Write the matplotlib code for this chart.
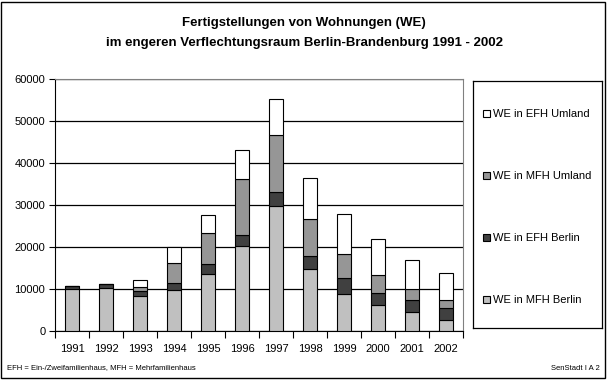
import matplotlib

matplotlib.use("Agg")

import matplotlib.pyplot as plt
import numpy as np
from matplotlib.patches import Patch, Rectangle

plt.rcParams["font.family"] = ["Liberation Sans", "DejaVu Sans"]

years = ["1991", "1992", "1993", "1994", "1995", "1996",
         "1997", "1998", "1999", "2000", "2001", "2002"]
mfh_berlin = [10000, 10300, 8400, 9800, 13600, 20200,
              29800, 14800, 8900, 6250, 4600, 2700]
efh_berlin = [700, 900, 1200, 1700, 2400, 2700,
              3300, 3100, 3800, 2850, 2700, 2700]
mfh_umland = [0, 0, 850, 4700, 7400, 13300,
              13500, 8800, 5700, 4300, 2600, 1900]
efh_umland = [0, 0, 1750, 3700, 4300, 6900,
              8600, 9700, 9500, 8500, 7000, 6600]

series = [
    ("WE in MFH Berlin", mfh_berlin, "#c0c0c0"),
    ("WE in EFH Berlin", efh_berlin, "#404040"),
    ("WE in MFH Umland", mfh_umland, "#969696"),
    ("WE in EFH Umland", efh_umland, "#ffffff"),
]

W, H = 608, 381
fig = plt.figure(figsize=(W / 100, H / 100), dpi=100)


def fx(px):
    return px / W


def fy(py):
    return 1 - py / H


# outer frame
fig.patches.append(Rectangle((fx(1), fy(378)), fx(604), 376 / H, transform=fig.transFigure,
                             fill=False, edgecolor="black", linewidth=1))

fig.text(0.5, fy(23), "Fertigstellungen von Wohnungen (WE)", ha="center", va="center",
         fontsize=9.5, fontweight="bold")
fig.text(0.5, fy(43), "im engeren Verflechtungsraum Berlin-Brandenburg 1991 - 2002",
         ha="center", va="center", fontsize=9.5, fontweight="bold")

ax = fig.add_axes([fx(55), fy(331), fx(408), 252 / H])
x = np.arange(len(years))
bottom = np.zeros(len(years))
handles = []
for label, values, color in series:
    vals = np.array(values, dtype=float)
    ax.bar(x, vals, width=0.42, bottom=bottom, color=color, edgecolor="black",
           linewidth=0.8, zorder=3)
    bottom += vals
    handles.append(Patch(facecolor=color, edgecolor="black", linewidth=0.8, label=label))

ax.set_xlim(-0.5, len(years) - 0.5)
ax.set_ylim(0, 60000)
ax.set_yticks(np.arange(0, 60001, 10000))
ax.set_yticklabels([str(v) for v in range(0, 60001, 10000)], fontsize=8)
ax.set_xticks(x)
ax.set_xticklabels(years, fontsize=8)
ax.tick_params(axis="x", length=0, pad=9)
ax.set_xticks(np.arange(-0.5, len(years), 1), minor=True)
ax.tick_params(axis="x", which="minor", length=5, width=0.8, direction="out")
ax.tick_params(axis="y", length=4, width=0.8, direction="out", pad=3)
ax.yaxis.grid(True, color="black", linewidth=0.9, zorder=0)
ax.set_axisbelow(True)
for side in ("top", "right"):
    ax.spines[side].set_color("#808080")
for side in ("left", "bottom"):
    ax.spines[side].set_color("black")

# legend box
leg_ax = fig.add_axes([fx(473), fy(328), fx(129), 247 / H])
leg_ax.set_xticks([])
leg_ax.set_yticks([])
for s in leg_ax.spines.values():
    s.set_color("black")
    s.set_linewidth(0.9)
leg_ax.legend(handles=handles[::-1], loc="center left", bbox_to_anchor=(0, 0.49),
              frameon=False, fontsize=8, labelspacing=4.68, handlelength=0.6,
              handleheight=0.6, handletextpad=0.3, borderaxespad=0.5)

fig.text(fx(7), fy(368), "EFH = Ein-/Zweifamilienhaus, MFH = Mehrfamilienhaus",
         ha="left", va="center", fontsize=5.5)
fig.text(fx(600), fy(368), "SenStadt I A 2", ha="right", va="center", fontsize=5.5)

fig.savefig("out.png", dpi=100)
